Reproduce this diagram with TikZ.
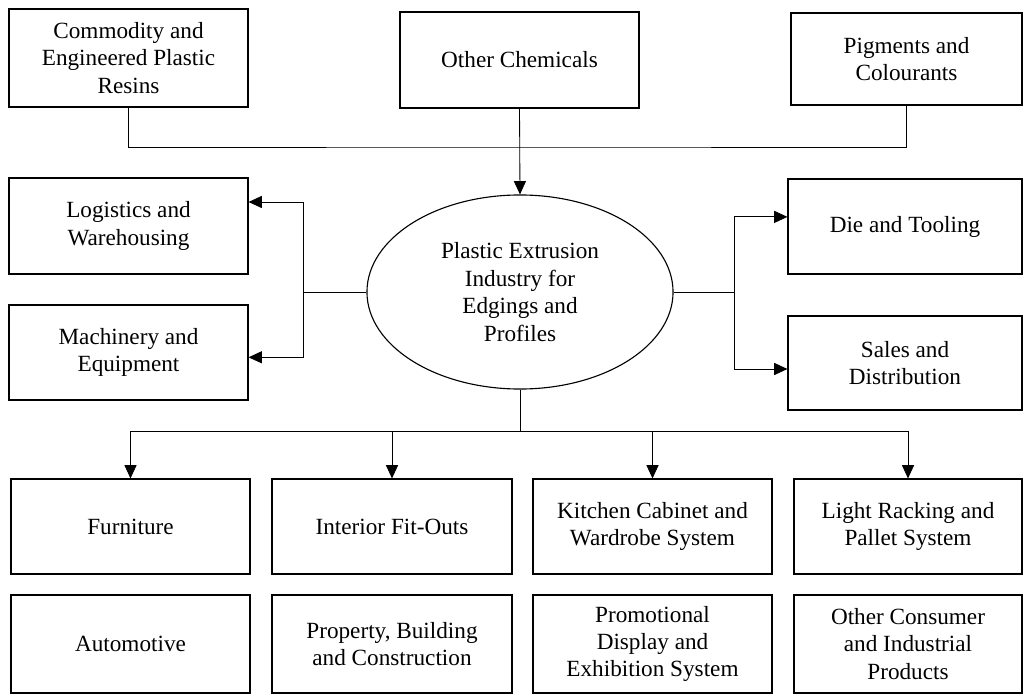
\documentclass[tikz,border=0pt]{standalone}
\usepackage{fontspec}
\setmainfont{Liberation Serif}
\usepackage{tikz}
\usetikzlibrary{shapes.geometric}
\usetikzlibrary{arrows.meta}
\tikzset{blk/.style={draw, line width=0.8pt, align=center, inner sep=2pt, font=\fontsize{16.5}{19.5}\selectfont},
         lnk/.style={line width=0.6pt},
         arr/.style={lnk, -{Triangle[length=0.33cm,width=0.3cm]}}}
\newcommand{\blk}[6]{\node[blk, minimum width={(#4-#2)*0.025cm}, minimum height={(#5-#3)*0.025cm}] (#1) at ({(#2+#4)/2},{(#3+#5)/2}) {#6};}

\begin{document}
\begin{tikzpicture}[x=0.025cm, y=-0.025cm]

        \useasboundingbox (0,0) rectangle (1024,695);

        % inputs
        \blk{resins}{9}{9}{248}{107}{Commodity and\\Engineered Plastic\\Resins}
        \blk{chem}{400}{12}{639}{108}{Other Chemicals}
        \blk{pig}{791}{13}{1022}{105}{Pigments and\\Colourants}

        % industry
        \node[draw, ellipse, line width=0.8pt, align=center, inner sep=0pt,
              minimum width=7.65cm, minimum height=4.85cm,
              font=\fontsize{16.5}{19.5}\selectfont] (ind) at (520,292)
              {Plastic Extrusion\\Industry for\\Edgings and\\Profiles};

        % support
        \blk{logi}{9}{178}{248}{274}{Logistics and\\Warehousing}
        \blk{mach}{9}{305}{248}{400}{Machinery and\\Equipment}
        \blk{die}{788}{179}{1022}{274}{Die and Tooling}
        \blk{sales}{788}{316}{1022}{410}{Sales and\\Distribution}

        % row1
        \blk{furn}{11}{479}{250}{574}{Furniture}
        \blk{fit}{272}{479}{512}{574}{Interior Fit-Outs}
        \blk{kit}{533}{479}{772}{574}{Kitchen Cabinet and\\Wardrobe System}
        \blk{rack}{794}{479}{1022}{574}{Light Racking and\\Pallet System}

        % row2
        \blk{auto}{11}{595}{250}{693}{Automotive}
        \blk{prop}{272}{595}{512}{693}{Property, Building\\and Construction}
        \blk{promo}{533}{595}{772}{693}{Promotional\\Display and\\Exhibition System}
        \blk{cons}{794}{595}{1022}{693}{Other Consumer\\and Industrial\\Products}

        % links
        \coordinate (topbus) at (520,147);
        \coordinate (lj) at (303,292);
        \coordinate (rj) at (734,292);
        \coordinate (bb) at (520,431);

        \draw[lnk] (resins.south) |- (topbus) -| (pig.south);
        \draw[arr] (chem.south) -- (ind.north);

        \draw[lnk] (ind.west) -- (lj);
        \draw[arr] (lj) |- ([yshift=0.6cm]logi.east);
        \draw[arr] (lj) |- ([yshift=-0.12cm]mach.east);

        \draw[lnk] (ind.east) -- (rj);
        \draw[arr] (rj) |- ([yshift=0.24cm]die.west);
        \draw[arr] (rj) |- ([yshift=-0.15cm]sales.west);

        \draw[lnk] (ind.south) -- (bb);
        \foreach \n in {furn,fit,kit,rack}
            \draw[arr] (bb) -| (\n.north);

\end{tikzpicture}
\end{document}
